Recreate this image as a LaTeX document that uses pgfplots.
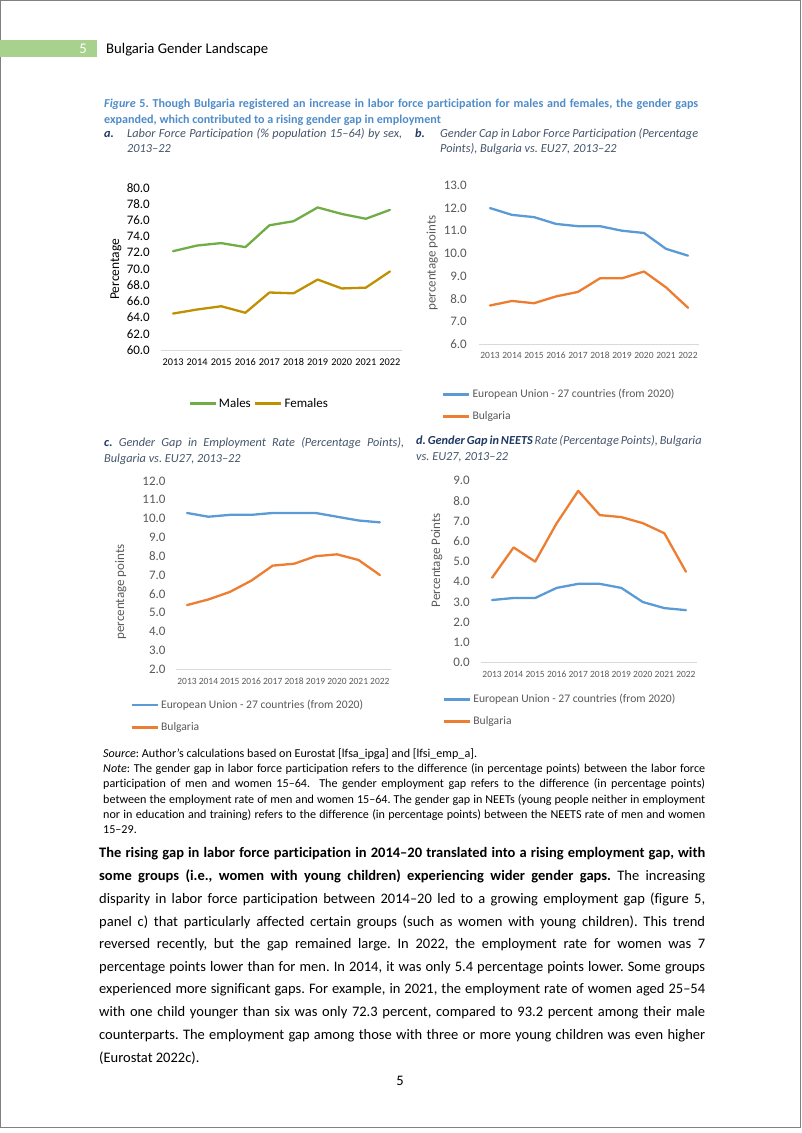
\documentclass[border=0pt]{standalone}
\usepackage{fontspec}
\setmainfont{Carlito}[Ligatures={TeX,NoCommon}]
\usepackage{pgfplots}
\pgfplotsset{compat=1.18}
\definecolor{eublue}{HTML}{5B9BD5}
\definecolor{bgorange}{HTML}{ED7D31}
\definecolor{mgreen}{HTML}{70AD47}
\definecolor{fgold}{HTML}{BF9000}
\definecolor{tgray}{HTML}{595959}
\definecolor{axgray}{HTML}{D9D9D9}
\definecolor{capblue}{HTML}{4F8CC9}
\definecolor{subgray}{HTML}{44546A}
\definecolor{navy}{HTML}{1F3864}
\definecolor{hgreen}{HTML}{A9D18E}
\definecolor{pgray}{HTML}{808080}
\newcommand\bodyf{\fontsize{14.5pt}{17pt}\selectfont}
\newcommand\notef{\fontsize{12.1pt}{14pt}\selectfont}
\newcommand\capf{\fontsize{12.1pt}{14pt}\selectfont}
\newcommand\subf{\fontsize{12.3pt}{14pt}\selectfont}
\newcommand\jl[2]{\makebox[#1pt][s]{#2}}
\frenchspacing
\pgfplotsset{
  /pgf/number format/assume math mode=true,
  legend image code/.code={\draw[#1, line width=2.7pt, line cap=butt] (0pt,0pt) -- (26pt,0pt);},
  base/.style={
    scale only axis, clip=false,
    axis x line*=bottom, axis y line*=left,
    y axis line style={draw=none},
    x axis line style={draw=axgray, line width=0.9pt},
    major tick length=0pt, tick style={draw=none},
    xmin=2012.5, xmax=2022.5, xtick={2013,2014,...,2022},
    xticklabel style={/pgf/number format/1000 sep={}, inner sep=0pt, anchor=base},
    yticklabel style={/pgf/number format/fixed, /pgf/number format/fixed zerofill,
      /pgf/number format/precision=1, inner sep=0pt, anchor=east},
    legend cell align=left,
  },
  ln/.style={line width=2.3pt, line join=round, line cap=round},
  grayticks/.style={
    xticklabel style={font=\fontsize{9.5pt}{11pt}\selectfont, color=tgray},
    yticklabel style={font=\fontsize{13pt}{15pt}\selectfont, color=tgray},
  },
  glegend/.style={legend style={draw=none, fill=none, inner sep=0pt, at={#1}, anchor=north west,
      font=\fontsize{11.6pt}{13pt}\selectfont, text=tgray, row sep=8.5pt, legend columns=1}},
}
\begin{document}
\begin{tikzpicture}[x=1pt,y=1pt]
\useasboundingbox (0,0) rectangle (802,-1133);
\draw[pgray, line width=1pt] (0.5,-0.5) rectangle (800.5,-1127);
% header
\fill[hgreen] (0,-40) rectangle (97,-57);
\node[anchor=base, inner sep=0pt, text=white] at (83,-53) {\fontsize{14.7pt}{16pt}\selectfont 5};
\node[anchor=base west, inner sep=0pt] at (106,-53) {\fontsize{14.7pt}{16pt}\selectfont Bulgaria Gender Landscape};
% caption
\node[anchor=base west, inner sep=0pt, text=capblue] at (104,-107) {\capf\bfseries\jl{594}{\textit{Figure} 5. Though Bulgaria registered an increase in labor force participation for males and females, the gender gaps}};
\node[anchor=base west, inner sep=0pt, text=capblue] at (104,-123) {\capf\bfseries expanded, which contributed to a rising gender gap in employment};
\node[anchor=base west, inner sep=0pt, text=navy] at (104,-137) {\subf\bfseries\itshape a.};
\node[anchor=base west, inner sep=0pt, text=subgray] at (127,-137) {\subf\itshape\jl{275}{Labor Force Participation (\% population 15–64) by sex,}};
\node[anchor=base west, inner sep=0pt, text=subgray] at (127,-152) {\subf\itshape 2013–22};
\node[anchor=base west, inner sep=0pt, text=navy] at (415,-137) {\subf\bfseries\itshape b.};
\node[anchor=base west, inner sep=0pt, text=subgray] at (440,-137) {\subf\itshape\jl{258}{Gender Cap in Labor Force Participation (Percentage}};
\node[anchor=base west, inner sep=0pt, text=subgray] at (440,-152) {\subf\itshape Points), Bulgaria vs. EU27, 2013–22};
\node[anchor=base west, inner sep=0pt, text=subgray] at (104,-446) {\subf\itshape\jl{300}{\textcolor{navy}{\bfseries c.} Gender Gap in Employment Rate (Percentage Points),}};
\node[anchor=base west, inner sep=0pt, text=subgray] at (104,-462) {\subf\itshape Bulgaria vs. EU27, 2013–22};
\node[anchor=base west, inner sep=0pt, text=subgray] at (416,-444) {\subf\itshape\jl{283}{\textcolor{navy}{\bfseries d. Gender Gap in NEETS} Rate (Percentage Points), Bulgaria}};
\node[anchor=base west, inner sep=0pt, text=subgray] at (416,-460) {\subf\itshape vs. EU27, 2013–22};

% chart a
\begin{axis}[base, at={(161pt,-350pt)}, anchor=south west, width=241pt, height=162pt,
  ymin=60, ymax=80, ytick={60,62,...,80},
  xticklabel style={font=\fontsize{10.3pt}{12pt}\selectfont, yshift=-15.5pt},
  yticklabel style={font=\fontsize{13pt}{15pt}\selectfont, xshift=-11pt},
  ylabel={Percentage},
  every axis y label/.style={at={(axis description cs:-0.187,0.498)}, rotate=90, anchor=center, font=\fontsize{13.5pt}{15pt}\selectfont},
  legend style={draw=none, fill=none, inner sep=0pt, at={(axis description cs:0.407,-0.33)}, anchor=center,
    font=\fontsize{13pt}{15pt}\selectfont, legend columns=2,
    /tikz/every even column/.append style={column sep=1pt}},
]
\addplot[ln, mgreen] coordinates {(2013,72.2) (2014,72.9) (2015,73.2) (2016,72.7) (2017,75.4) (2018,75.9) (2019,77.6) (2020,76.8) (2021,76.2) (2022,77.3)};
\addlegendentry{Males}
\addplot[ln, fgold] coordinates {(2013,64.5) (2014,65.0) (2015,65.4) (2016,64.6) (2017,67.1) (2018,67.0) (2019,68.7) (2020,67.6) (2021,67.7) (2022,69.7)};
\addlegendentry{Females}
\end{axis}

% chart b
\begin{axis}[base, grayticks, at={(479pt,-344pt)}, anchor=south west, width=220pt, height=158.6pt,
  ymin=6, ymax=13, ytick={6,7,...,13},
  xticklabel style={yshift=-14.5pt},
  yticklabel style={xshift=-12pt},
  ylabel={percentage points},
  every axis y label/.style={at={(axis description cs:-0.212,0.511)}, rotate=90, anchor=center, font=\fontsize{13pt}{15pt}\selectfont, text=tgray},
  glegend={(axis description cs:-0.17,-0.272)},
]
\addplot[ln, eublue] coordinates {(2013,12.0) (2014,11.7) (2015,11.6) (2016,11.3) (2017,11.2) (2018,11.2) (2019,11.0) (2020,10.9) (2021,10.2) (2022,9.9)};
\addlegendentry{European Union - 27 countries (from 2020)}
\addplot[ln, bgorange] coordinates {(2013,7.7) (2014,7.9) (2015,7.8) (2016,8.1) (2017,8.3) (2018,8.9) (2019,8.9) (2020,9.2) (2021,8.5) (2022,7.6)};
\addlegendentry{Bulgaria}
\end{axis}

% chart c
\begin{axis}[base, grayticks, at={(176.3pt,-669pt)}, anchor=south west, width=214.3pt, height=188pt,
  ymin=2, ymax=12, ytick={2,3,...,12},
  xticklabel style={yshift=-15.5pt},
  yticklabel style={xshift=-10.6pt},
  ylabel={percentage points},
  every axis y label/.style={at={(axis description cs:-0.259,0.41)}, rotate=90, anchor=center, font=\fontsize{13pt}{15pt}\selectfont, text=tgray},
  glegend={(axis description cs:-0.215,-0.153)},
]
\addplot[ln, eublue] coordinates {(2013,10.3) (2014,10.1) (2015,10.2) (2016,10.2) (2017,10.3) (2018,10.3) (2019,10.3) (2020,10.1) (2021,9.9) (2022,9.8)};
\addlegendentry{European Union - 27 countries (from 2020)}
\addplot[ln, bgorange] coordinates {(2013,5.4) (2014,5.7) (2015,6.1) (2016,6.7) (2017,7.5) (2018,7.6) (2019,8.0) (2020,8.1) (2021,7.8) (2022,7.0)};
\addlegendentry{Bulgaria}
\end{axis}

% chart d
\begin{axis}[base, grayticks, at={(481.3pt,-662.7pt)}, anchor=south west, width=215.4pt, height=182pt,
  ymin=0, ymax=9, ytick={0,1,...,9},
  xticklabel style={yshift=-14.7pt},
  yticklabel style={xshift=-11.3pt},
  ylabel={Percentage Points},
  every axis y label/.style={at={(axis description cs:-0.207,0.564)}, rotate=90, anchor=center, font=\fontsize{13pt}{15pt}\selectfont, text=tgray},
  glegend={(axis description cs:-0.18,-0.162)},
]
\addplot[ln, eublue] coordinates {(2013,3.1) (2014,3.2) (2015,3.2) (2016,3.7) (2017,3.9) (2018,3.9) (2019,3.7) (2020,3.0) (2021,2.7) (2022,2.6)};
\addlegendentry{European Union - 27 countries (from 2020)}
\addplot[ln, bgorange] coordinates {(2013,4.2) (2014,5.7) (2015,5.0) (2016,6.9) (2017,8.5) (2018,7.3) (2019,7.2) (2020,6.9) (2021,6.4) (2022,4.5)};
\addlegendentry{Bulgaria}
\end{axis}

% source and note
\node[anchor=base west, inner sep=0pt] at (103,-757) {\notef\textit{Source}: Author’s calculations based on Eurostat [lfsa\_ipga] and [lfsi\_emp\_a].};
\node[anchor=base west, inner sep=0pt] at (103,-772) {\notef\jl{602}{\textit{Note}: The gender gap in labor force participation refers to the difference (in percentage points) between the labor force}};
\node[anchor=base west, inner sep=0pt] at (103,-787.5) {\notef\jl{602}{participation of men and women 15–64. \ The gender employment gap refers to the difference (in percentage points)}};
\node[anchor=base west, inner sep=0pt] at (103,-803) {\notef\jl{602}{between the employment rate of men and women 15–64. The gender gap in NEETs (young people neither in employment}};
\node[anchor=base west, inner sep=0pt] at (103,-818) {\notef\jl{602}{nor in education and training) refers to the difference (in percentage points) between the NEETS rate of men and women}};
\node[anchor=base west, inner sep=0pt] at (103,-833) {\notef 15–29.};
% body
\node[anchor=base west, inner sep=0pt] at (99,-857) {\bodyf\jl{606}{\bfseries The rising gap in labor force participation in 2014–20 translated into a rising employment gap, with}};
\node[anchor=base west, inner sep=0pt] at (99,-880) {\bodyf\jl{606}{\textbf{some groups (i.e., women with young children) experiencing wider gender gaps.} The increasing}};
\node[anchor=base west, inner sep=0pt] at (99,-903) {\bodyf\jl{606}{disparity in labor force participation between 2014–20 led to a growing employment gap (figure 5,}};
\node[anchor=base west, inner sep=0pt] at (99,-926) {\bodyf\jl{606}{panel c) that particularly affected certain groups (such as women with young children). This trend}};
\node[anchor=base west, inner sep=0pt] at (99,-948) {\bodyf\jl{606}{reversed recently, but the gap remained large. In 2022, the employment rate for women was 7}};
\node[anchor=base west, inner sep=0pt] at (99,-971) {\bodyf\jl{606}{percentage points lower than for men. In 2014, it was only 5.4 percentage points lower. Some groups}};
\node[anchor=base west, inner sep=0pt] at (99,-993) {\bodyf\jl{606}{experienced more significant gaps. For example, in 2021, the employment rate of women aged 25–54}};
\node[anchor=base west, inner sep=0pt] at (99,-1016) {\bodyf\jl{606}{with one child younger than six was only 72.3 percent, compared to 93.2 percent among their male}};
\node[anchor=base west, inner sep=0pt] at (99,-1039) {\bodyf\jl{606}{counterparts. The employment gap among those with three or more young children was even higher}};
\node[anchor=base west, inner sep=0pt] at (99,-1062) {\bodyf (Eurostat 2022c).};
\node[anchor=base, inner sep=0pt] at (400,-1085) {\bodyf 5};
\end{tikzpicture}
\end{document}
